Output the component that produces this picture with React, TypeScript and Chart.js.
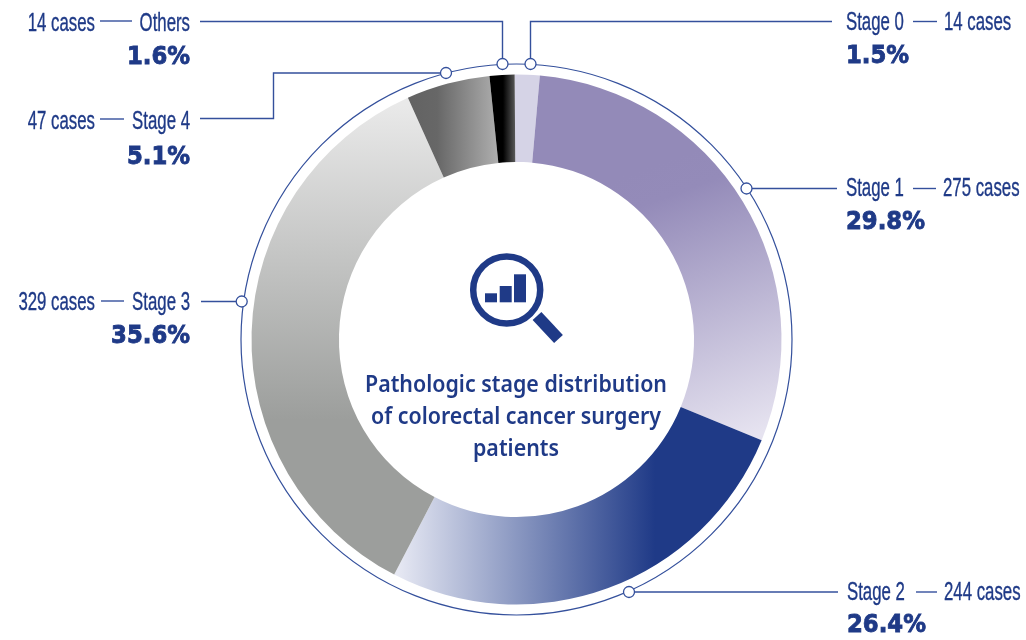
import React, { useEffect, useRef } from "react";
import { Chart, registerables } from "chart.js";

Chart.register(...registerables);

const categories = ["Stage 0", "Stage 1", "Stage 2", "Stage 3", "Stage 4", "Others"];
const cases = [14, 275, 244, 329, 47, 14];
const percents = ["1.5%", "29.8%", "26.4%", "35.6%", "5.1%", "1.6%"];
const title = ["Pathologic stage distribution", "of colorectal cancer surgery", "patients"];

const NAVY = "#1f3a87";
const LINE = "#34509c";
const NARROW = '"Liberation Sans"';
const XS = 0.672;

type Grad = { p: number[]; stops: [number, string][] };
const gradients: Grad[] = [
  { p: [516, 0, 540, 0], stops: [[0, "#d5d3e6"], [1, "#d5d3e6"]] },
  { p: [640, 170, 740, 440], stops: [[0, "#938ab8"], [0.12, "#948bb9"], [1, "#e6e3f0"]] },
  { p: [398, 0, 655, 0], stops: [[0, "#e6e8f3"], [1, "#1f3a87"]] },
  { p: [0, 105, 0, 420], stops: [[0, "#e9e9e9"], [1, "#9c9e9c"]] },
  { p: [405, 0, 497, 0], stops: [[0, "#626262"], [0.35, "#676767"], [1, "#adadad"]] },
  { p: [489, 0, 517, 0], stops: [[0, "#000000"], [0.5, "#000000"], [1, "#666666"]] },
];

type Callout = {
  idx: number;
  side: "l" | "r";
  path: number[][];
  stageX: number;
  stageBase: number;
  dash: number[];
  dashY: number;
  casesX: number;
  pctBase: number;
};
const callouts: Callout[] = [
  { idx: 0, side: "r", path: [[530.5, 64], [530.5, 21.5], [832, 21.5]], stageX: 846, stageBase: 30, dash: [913, 937], dashY: 21.5, casesX: 944, pctBase: 63 },
  { idx: 1, side: "r", path: [[746.5, 188.5], [837, 188.5]], stageX: 846, stageBase: 196, dash: [913, 936], dashY: 188.5, casesX: 943, pctBase: 229 },
  { idx: 2, side: "r", path: [[629, 592], [838, 592]], stageX: 847, stageBase: 600, dash: [916, 937], dashY: 592, casesX: 944, pctBase: 632 },
  { idx: 3, side: "l", path: [[241.7, 301.5], [201, 301.5]], stageX: 190, stageBase: 309.5, dash: [101, 124], dashY: 301, casesX: 95, pctBase: 343 },
  { idx: 4, side: "l", path: [[446, 73], [273.5, 73], [273.5, 118.5], [200, 118.5]], stageX: 190, stageBase: 129, dash: [100, 124], dashY: 119, casesX: 95, pctBase: 164 },
  { idx: 5, side: "l", path: [[502.5, 64], [502.5, 21.5], [200, 21.5]], stageX: 190, stageBase: 31, dash: [100, 132], dashY: 21, casesX: 95, pctBase: 64 },
];

function narrowText(ctx: CanvasRenderingContext2D, s: string, x: number, y: number, align: "left" | "right") {
  ctx.save();
  ctx.translate(x, y);
  ctx.scale(XS, 1);
  ctx.font = `25px ${NARROW}`;
  ctx.textAlign = align;
  ctx.textBaseline = "alphabetic";
  ctx.fillStyle = NAVY;
  ctx.strokeStyle = NAVY;
  ctx.lineWidth = 0.35;
  ctx.fillText(s, 0, 0);
  ctx.strokeText(s, 0, 0);
  ctx.restore();
}

const overlay = {
  id: "overlay",
  afterDraw(chart: any) {
    const ctx: CanvasRenderingContext2D = chart.ctx;
    const arc = chart.getDatasetMeta(0).data[0];
    const cx = arc.x;
    const cy = arc.y;
    const ringR = arc.outerRadius + 10.5;
    ctx.save();
    ctx.strokeStyle = LINE;
    ctx.lineWidth = 1.2;
    ctx.beginPath();
    ctx.arc(cx, cy, ringR, 0, Math.PI * 2);
    ctx.stroke();

    callouts.forEach((c) => {
      ctx.strokeStyle = LINE;
      ctx.lineWidth = 1.4;
      ctx.beginPath();
      c.path.forEach(([x, y], i) => (i ? ctx.lineTo(x, y) : ctx.moveTo(x, y)));
      ctx.stroke();
      ctx.beginPath();
      ctx.moveTo(c.dash[0], c.dashY);
      ctx.lineTo(c.dash[1], c.dashY);
      ctx.stroke();
    });
    callouts.forEach((c) => {
      ctx.beginPath();
      ctx.arc(c.path[0][0], c.path[0][1], 5.5, 0, Math.PI * 2);
      ctx.fillStyle = "#ffffff";
      ctx.fill();
      ctx.lineWidth = 1.3;
      ctx.strokeStyle = LINE;
      ctx.stroke();

      const stage = categories[c.idx];
      const n = `${cases[c.idx]} cases`;
      const left = c.side === "l";
      narrowText(ctx, stage, c.stageX, c.stageBase, left ? "right" : "left");
      narrowText(ctx, n, c.casesX, c.stageBase, left ? "right" : "left");
      ctx.font = 'bold 25px "DejaVu Sans"';
      ctx.textAlign = left ? "right" : "left";
      ctx.textBaseline = "alphabetic";
      ctx.fillStyle = NAVY;
      ctx.strokeStyle = NAVY;
      ctx.lineWidth = 0.9;
      ctx.save();
      ctx.translate(c.stageX, c.pctBase);
      ctx.scale(0.91, 1);
      ctx.fillText(percents[c.idx], 0, 0);
      ctx.strokeText(percents[c.idx], 0, 0);
      ctx.restore();
    });

    // centre icon
    ctx.strokeStyle = NAVY;
    ctx.fillStyle = NAVY;
    ctx.lineWidth = 6.5;
    ctx.beginPath();
    ctx.arc(506.7, 290, 33.5, 0, Math.PI * 2);
    ctx.stroke();
    ctx.fillRect(485, 293.3, 12, 9);
    ctx.fillRect(499.7, 286, 12, 16.3);
    ctx.fillRect(514, 274.3, 12, 28);
    ctx.lineWidth = 12;
    ctx.beginPath();
    ctx.moveTo(537, 316);
    ctx.lineTo(558.5, 339);
    ctx.stroke();

    // centre title
    ctx.textAlign = "center";
    ctx.textBaseline = "alphabetic";
    title.forEach((t, i) => {
      ctx.save();
      ctx.translate(516, 392 + i * 32);
      ctx.scale(0.93, 1);
      ctx.font = '600 23px "Noto Sans"';
      ctx.fillText(t, 0, 0);
      ctx.restore();
    });
    ctx.restore();
  },
};

export default function App() {
  const ref = useRef<HTMLCanvasElement>(null);
  useEffect(() => {
    document.body.style.margin = "0";
    const canvas = ref.current!;
    const chart = new Chart(canvas, {
      type: "doughnut",
      data: {
        labels: categories,
        datasets: [
          {
            data: cases,
            borderWidth: 0,
            backgroundColor: (c: any) => {
              const g = gradients[c.dataIndex];
              if (!g) return "#000";
              const lg = c.chart.ctx.createLinearGradient(g.p[0], g.p[1], g.p[2], g.p[3]);
              g.stops.forEach(([o, col]) => lg.addColorStop(o, col));
              return lg;
            },
          },
        ],
      },
      options: {
        responsive: false,
        animation: false,
        cutout: "67%",
        rotation: -0.4,
        layout: { padding: { left: 251.5, right: 244.5, top: 74.5, bottom: 35.5 } },
        plugins: { legend: { display: false }, tooltip: { enabled: false }, title: { display: false } },
      },
      plugins: [overlay],
    } as any);
    return () => chart.destroy();
  }, []);
  return <canvas ref={ref} width={1026} height={640} style={{ display: "block", background: "#fff" }} />;
}
